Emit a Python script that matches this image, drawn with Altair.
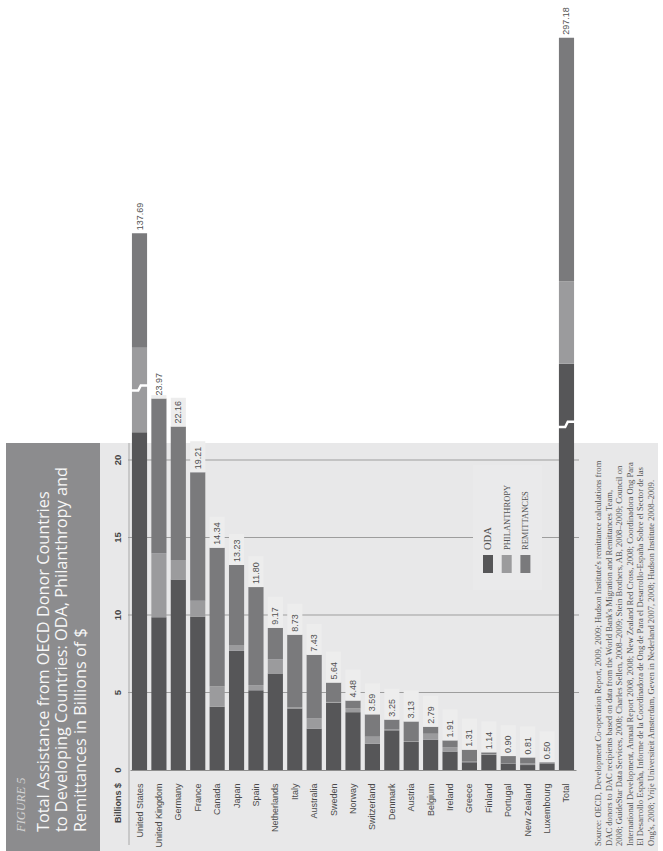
import altair as alt
import pandas as pd

# ---- data ---------------------------------------------------------------
countries = [
    "United States", "United Kingdom", "Germany", "France", "Canada", "Japan",
    "Spain", "Netherlands", "Italy", "Australia", "Sweden", "Norway",
    "Switzerland", "Denmark", "Austria", "Belgium", "Ireland", "Greece",
    "Finland", "Portugal", "New Zealand", "Luxembourg",
]
oda = [21.79, 9.85, 12.29, 9.88, 4.08, 7.69, 5.14, 6.22, 3.97, 2.67, 4.34,
       3.73, 1.69, 2.56, 1.81, 1.95, 1.19, 0.50, 0.98, 0.42, 0.32, 0.43]
philanthropy = [36.90, 4.13, 1.26, 1.04, 1.30, 0.38, 0.34, 0.92, 0.06, 0.65,
                0.05, 0.25, 0.46, 0.05, 0.06, 0.39, 0.28, 0.04, 0.04, 0.02,
                0.10, 0.02]
remittances = [79.00, 9.99, 8.61, 8.29, 8.96, 5.16, 6.32, 2.03, 4.70, 4.11,
               1.25, 0.50, 1.44, 0.64, 1.26, 0.45, 0.44, 0.77, 0.12, 0.46,
               0.39, 0.05]

total_name = "Total"
total_oda = [103.49]
total_philanthropy = [49.01]
total_remittances = [144.68]

series = ["ODA", "Philanthropy", "Remittances"]
series_colors = ["#565658", "#9b9b9d", "#7a7a7c"]
legend_labels = ["ODA", "PHILANTHROPY", "REMITTANCES"]
tick_values = [0, 5, 10, 15, 20]

figure_label = "FIGURE 5"
title_lines = [
    "Total Assistance from OECD Donor Countries",
    "to Developing Countries: ODA, Philanthropy and",
    "Remittances in Billions of $",
]
axis_unit = "Billions $"
source_lines = [
    "Source: OECD, Development Co-operation Report, 2009, 2009; Hudson Institute's remittance calculations from",
    "DAC donors to DAC recipients based on data from the World Bank's Migration and Remittances Team,",
    "2008; GuideStar Data Services, 2008; Charles Sellen, 2008–2009; Stein Brothers, AB, 2008–2009; Council on",
    "International Development, Annual Report 2008, 2008; New Zealand Red Cross, 2008; Coordinadora Ong Para",
    "El Desarrollo España, Informe de la Coordinadora de Ong de Para el Desarrollo-España Sobre el Sector de las",
    "Ong's, 2008; Vrije Universiteit Amsterdam, Geven in Nederland 2007, 2008; Hudson Institute 2008–2009.",
]

# ---- styling ------------------------------------------------------------
NARROW = "Liberation Sans Narrow, Liberation Sans, Arial, sans-serif"
SERIF = "Liberation Serif, DejaVu Serif, serif"
SANS = "Open Sans, Liberation Sans, sans-serif"
PANEL = "#e8e8e9"
BAND = "#8c8c8e"
GRID = "#9d9d9d"
TEXT = "#505050"
ZIGZAG = "M -1 0.3 L -0.15 0.3 L 0.15 -0.3 L 1 -0.3"

W, H = 446, 770


def stack(names, columns):
    """Stack the three flows per donor: ODA, then philanthropy, then remittances."""
    rows, totals = [], []
    for i, name in enumerate(names):
        base = 0.0
        for s, col in zip(series, columns):
            top = round(base + col[i], 2)
            rows.append({"country": name, "series": s, "start": base, "end": top})
            base = top
        totals.append({"country": name, "total": base, "label": f"{base:.2f}"})
    return pd.DataFrame(rows), pd.DataFrame(totals)


seg_main, tot_main = stack(countries, [oda, philanthropy, remittances])
seg_total, tot_total = stack([total_name], [total_oda, total_philanthropy, total_remittances])

one = pd.DataFrame({"k": [0]})

x_scale = alt.Scale(domain=countries + [total_name], paddingInner=0.22, paddingOuter=0.1)
# broken value axes: linear up to the break, compressed above it
y_main = alt.Scale(domain=[0, 24, 140], range=[H, 398, 230], nice=False, zero=False)
y_total = alt.Scale(domain=[0, 22.3, 100, 300], range=[H, 424.35, 369.5, 33], nice=False, zero=False)
color_scale = alt.Scale(domain=series, range=series_colors)

x_axis = alt.Axis(
    title=None, labelAngle=270, labelAlign="right", labelBaseline="middle",
    labelPadding=13, ticks=False, grid=False, domain=True, domainColor="#8e8e8e",
    labelFont=NARROW, labelFontSize=9, labelColor="#4a4a4a", zindex=1,
)
X = alt.X("country:N", scale=x_scale, axis=x_axis, sort=None)


def rect(x1, x2, y1, y2, fill):
    return alt.Chart(one).mark_rect(color=fill).encode(
        x=alt.value(x1), x2=alt.value(x2), y=alt.value(y1), y2=alt.value(y2))


panel = rect(-30, 528, 443, 851, PANEL)
band = rect(-124, -30, 443, 851, BAND)
vrule = alt.Chart(one).mark_rule(color="#a8a8a8").encode(
    x=alt.value(-1), y=alt.value(443), y2=alt.value(845))

# ---- donor countries (shared broken scale) ------------------------------
grid = alt.Chart(pd.DataFrame({"v": tick_values[1:]})).mark_rule(color=GRID).encode(
    y=alt.Y("v:Q", scale=y_main, axis=None), x=alt.value(-2), x2=alt.value(W + 3))

tick_text = alt.Chart(pd.DataFrame({"v": tick_values})).mark_text(
    angle=270, align="center", baseline="bottom", font=NARROW, fontSize=9.5,
    fontWeight="bold", color="#444444",
).encode(y=alt.Y("v:Q", scale=y_main, axis=None), x=alt.value(-7), text="v:Q")

bars_main = alt.Chart(seg_main).mark_bar().encode(
    x=X,
    y=alt.Y("end:Q", scale=y_main, axis=None),
    y2="start:Q",
    color=alt.Color("series:N", scale=color_scale, legend=None),
)

label_boxes = alt.Chart(tot_main.iloc[1:]).transform_calculate(
    top="datum.total + 2.0"
).mark_bar(color="#ededed").encode(
    x=X, y=alt.Y("total:Q", scale=y_main, axis=None), y2="top:Q")

labels_main = alt.Chart(tot_main).mark_text(
    angle=270, align="left", baseline="middle", dx=3, font=NARROW,
    fontSize=9, color=TEXT,
).encode(x=X, y=alt.Y("total:Q", scale=y_main, axis=None), text="label:N")

break_main = alt.Chart(pd.DataFrame({"country": [countries[0]], "v": [30.9]})).mark_point(
    shape=ZIGZAG, size=300, filled=False, color="white", strokeWidth=2.5, opacity=1,
).encode(x=X, y=alt.Y("v:Q", scale=y_main, axis=None))

main_layer = alt.layer(grid, tick_text, bars_main, label_boxes, labels_main, break_main)

# ---- legend -------------------------------------------------------------
legend_parts = [rect(343, 412, 465, 590, "#eaeaeb")]
for i, (lab, col) in enumerate(zip(legend_labels, series_colors)):
    cx = 358 + i * 18.7
    legend_parts.append(rect(cx - 5, cx + 5, 555, 573, col))
    legend_parts.append(
        alt.Chart(one).mark_text(
            text=lab, angle=270, align="left", baseline="middle", font=SERIF,
            fontSize=10.5 if i == 0 else 8.5, color=TEXT,
        ).encode(x=alt.value(cx), y=alt.value(550))
    )

# ---- total column (its own broken scale) --------------------------------
bars_total = alt.Chart(seg_total).mark_bar().encode(
    x=X,
    y=alt.Y("end:Q", scale=y_total, axis=None),
    y2="start:Q",
    color=alt.Color("series:N", scale=color_scale, legend=None),
)
labels_total = alt.Chart(tot_total).mark_text(
    angle=270, align="left", baseline="middle", dx=3, font=NARROW,
    fontSize=9, color=TEXT,
).encode(x=X, y=alt.Y("total:Q", scale=y_total, axis=None), text="label:N")
break_total = alt.Chart(pd.DataFrame({"country": [total_name], "v": [22.3]})).mark_point(
    shape=ZIGZAG, size=300, filled=False, color="white", strokeWidth=2.5, opacity=1,
).encode(x=X, y=alt.Y("v:Q", scale=y_total, axis=None))

total_layer = alt.layer(bars_total, labels_total, break_total)

# ---- titles and notes ---------------------------------------------------
fig_text = alt.Chart(one).mark_text(
    text=figure_label, angle=270, align="left", baseline="middle", font=SERIF,
    fontSize=12.5, fontStyle="italic", color="#d2d2d2",
).encode(x=alt.value(-109), y=alt.value(832))

title_text = alt.Chart(one).mark_text(
    text=title_lines, angle=270, align="left", baseline="top", font=SANS,
    fontSize=16.3, lineHeight=18.5, color="#f7f7f7",
).encode(x=alt.value(-94.5), y=alt.value(832))

unit_text = alt.Chart(one).mark_text(
    text=axis_unit, angle=270, align="right", baseline="middle", font=NARROW,
    fontSize=9, fontWeight="bold", color="#444444",
).encode(x=alt.value(-12), y=alt.value(783))

source_text = alt.Chart(one).mark_text(
    text=source_lines, angle=270, align="left", baseline="top", font=SERIF,
    fontSize=8.6, lineHeight=10.5, color="#555555",
).encode(x=alt.value(464), y=alt.value(846))

chart = alt.layer(
    panel, band, vrule, main_layer, *legend_parts, total_layer,
    fig_text, title_text, unit_text, source_text,
).resolve_scale(y="independent").properties(
    width=W, height=H,
    autosize=alt.AutoSizeParams(type="none"),
    padding={"left": 130, "top": 0, "right": 87, "bottom": 81},
    background="white",
).configure_view(stroke=None)

chart.save("out.html", embed_options={"renderer": "svg", "actions": False})
